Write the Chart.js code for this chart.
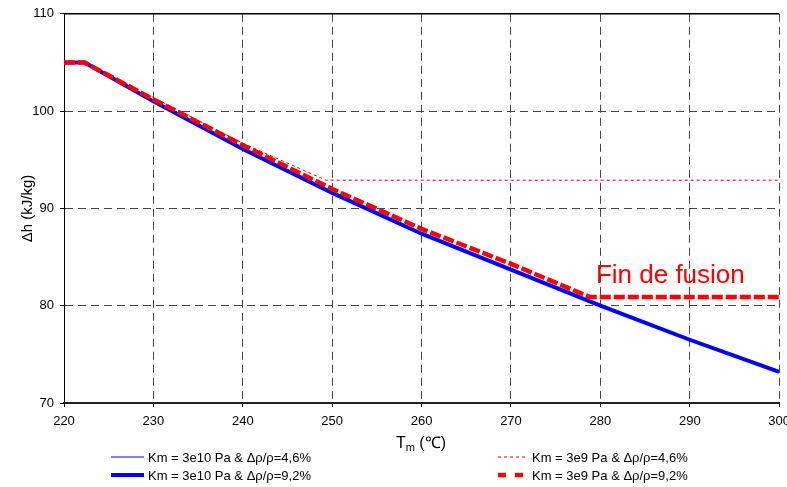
<!DOCTYPE html>
<html lang="fr">
  <head>
    <meta charset="UTF-8" />
    <title>Enthalpie de fusion</title>
    <script src="https://cdn.jsdelivr.net/npm/chart.js"></script>
    <style>
      html,
      body {
        margin: 0;
        padding: 0;
        background: #fff;
        font-family: Arial, "Liberation Sans", sans-serif;
      }

      .wrap {
        position: relative;
        width: 787px;
        height: 487px;
        overflow: hidden;
      }

      canvas {
        position: absolute;
        left: 0;
        top: 0;
      }

      .xtitle {
        position: absolute;
        left: 371px;
        width: 100px;
        top: 431px;
        text-align: center;
        font-size: 16px;
        color: #000;
      }

      .xtitle sub {
        font-size: 11px;
        vertical-align: -3px;
      }

      .legend-item {
        position: absolute;
        height: 16px;
        display: flex;
        align-items: center;
        font-size: 13px;
        color: #000;
        white-space: nowrap;
      }

      .legend-item svg {
        margin-right: 3px;
      }
    </style>
  </head>
  <body>
    <div class="wrap">
      <canvas id="lineChart" width="797" height="487"></canvas>
      <div class="xtitle">T<sub>m</sub> (&#8451;)</div>
      <div id="legend"></div>
    </div>

    <script>
      // valeurs
      const xTicks = [220, 230, 240, 250, 260, 270, 280, 290, 300];
      const yTicks = [70, 80, 90, 100, 110];

      const labels = [
        "Km = 3e10 Pa & \u0394\u03c1/\u03c1=4,6%",
        "Km = 3e9 Pa & \u0394\u03c1/\u03c1=4,6%",
        "Km = 3e10 Pa & \u0394\u03c1/\u03c1=9,2%",
        "Km = 3e9 Pa & \u0394\u03c1/\u03c1=9,2%",
      ];

      // Km = 3e10 (les deux courbes bleues se superposent)
      const blueT = [220, 222.3, 230, 240, 250, 260, 270, 280, 290, 300];
      const blueH = [105, 105, 101.0, 96.1, 91.6, 87.4, 83.7, 80.0, 76.5, 73.2];

      // Km = 3e9, 4,6%
      const redThinT = [220, 222.3, 230, 240, 249.3, 300];
      const redThinH = [105, 105, 101.4, 96.7, 92.9, 92.9];

      // Km = 3e9, 9,2%
      const redThickT = [220, 222.3, 230, 240, 250, 260, 270, 278.8, 300];
      const redThickH = [105, 105, 101.2, 96.5, 92.0, 87.9, 84.3, 80.9, 80.9];

      const toPoints = (xs, ys) => xs.map((x, i) => ({ x: x, y: ys[i] }));

      const datasets = [
        {
          label: labels[0],
          data: toPoints(blueT, blueH),
          borderColor: "#0000ff",
          borderWidth: 1,
          order: 3,
        },
        {
          label: labels[1],
          data: toPoints(redThinT, redThinH),
          borderColor: "#e00000",
          borderWidth: 1,
          borderDash: [3, 3],
          order: 0,
        },
        {
          label: labels[2],
          data: toPoints(blueT, blueH),
          borderColor: "#0000ff",
          borderWidth: 4,
          order: 4,
        },
        {
          label: labels[3],
          data: toPoints(redThickT, redThickH),
          borderColor: "#ff0000",
          borderWidth: 4.5,
          borderDash: [11, 3],
          order: 1,
        },
      ];

      // cadre du haut + annotation
      const extras = {
        id: "extras",
        afterDraw(chart) {
          const { ctx, chartArea, scales } = chart;
          ctx.save();
          ctx.strokeStyle = "#000";
          ctx.lineWidth = 1.5;
          ctx.beginPath();
          ctx.moveTo(chartArea.left, chartArea.top);
          ctx.lineTo(chartArea.right, chartArea.top);
          ctx.stroke();

          ctx.fillStyle = "#ff0000";
          ctx.font = "26px Arial, 'Liberation Sans', sans-serif";
          ctx.textBaseline = "alphabetic";
          ctx.fillText(
            "Fin de fusion",
            scales.x.getPixelForValue(279.5),
            scales.y.getPixelForValue(82.3)
          );
          ctx.restore();
        },
      };

      const ctxLine = document.getElementById("lineChart").getContext("2d");
      new Chart(ctxLine, {
        type: "line",
        data: { datasets: datasets },
        options: {
          responsive: false,
          animation: false,
          layout: { padding: { top: 12, left: 0, bottom: 0 } },
          elements: {
            point: { radius: 0 },
            line: { tension: 0, borderCapStyle: "butt" },
          },
          plugins: {
            legend: { display: false },
            tooltip: { enabled: false },
          },
          scales: {
            x: {
              type: "linear",
              min: 220,
              max: 300,
              afterBuildTicks: (s) => {
                s.ticks = xTicks.map((v) => ({ value: v }));
              },
              afterFit: (s) => {
                s.height = 84;
              },
              ticks: {
                color: "#000",
                font: { size: 13, family: "Arial, 'Liberation Sans', sans-serif" },
                padding: 7,
                maxRotation: 0,
              },
              grid: {
                color: "#444",
                lineWidth: 1,
                tickLength: 4,
                tickColor: "#000",
              },
              border: { display: true, color: "#222", width: 2, dash: [8, 5] },
            },
            y: {
              min: 70,
              max: 110,
              afterBuildTicks: (s) => {
                s.ticks = yTicks.map((v) => ({ value: v }));
              },
              afterFit: (s) => {
                s.width = 64;
              },
              ticks: {
                color: "#000",
                font: { size: 13, family: "Arial, 'Liberation Sans', sans-serif" },
                padding: 6,
              },
              grid: {
                color: "#444",
                lineWidth: 1,
                tickLength: 4,
                tickColor: "#000",
              },
              border: { display: true, color: "#000", width: 1, dash: [8, 5] },
              title: {
                display: true,
                text: "\u0394h (kJ/kg)",
                color: "#000",
                font: { size: 15, family: "Arial, 'Liberation Sans', sans-serif" },
                padding: { top: 19, bottom: 0 },
              },
            },
          },
        },
        plugins: [extras],
      });

      // légende sur deux colonnes
      const legendPos = [
        { left: 110, top: 449 },
        { left: 497, top: 449 },
        { left: 110, top: 467 },
        { left: 497, top: 467 },
      ];
      const legendEl = document.getElementById("legend");
      datasets.forEach((ds, i) => {
        const item = document.createElement("div");
        item.className = "legend-item";
        item.style.left = legendPos[i].left + "px";
        item.style.top = legendPos[i].top + "px";
        const w = i % 2 === 0 ? 33 : 30;
        const dash =
          i === 1 ? 'stroke-dasharray="3,3"' : i === 3 ? 'stroke-dasharray="8,9"' : "";
        item.innerHTML =
          '<svg width="' + (w + 2) + '" height="10"><line x1="1" y1="5" x2="' + (w + 1) +
          '" y2="5" stroke="' + ds.borderColor + '" stroke-width="' + ds.borderWidth +
          '" ' + dash + "/></svg><span>" + ds.label + "</span>";
        legendEl.appendChild(item);
      });
    </script>
  </body>
</html>
